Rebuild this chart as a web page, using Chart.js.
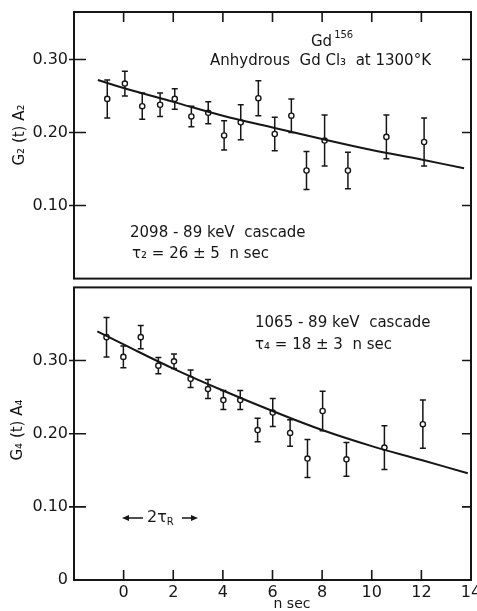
<!DOCTYPE html>
<html>
<head>
<meta charset="utf-8">
<script src="https://cdn.jsdelivr.net/npm/chart.js@4.4.1/dist/chart.umd.min.js"></script>
<style>
  html, body { margin: 0; padding: 0; background: #fff; }
  #page { position: relative; width: 477px; height: 611px; overflow: hidden; }
  #page canvas { position: absolute; left: 0; }
  #upper { top: 0; }
  #lower { top: 282px; }
</style>
</head>
<body>
<div id="page">
  <canvas id="upper" width="477" height="284"></canvas>
  <canvas id="lower" width="477" height="329"></canvas>
</div>
<script>
// x axis (n sec)
const xMin = -2;
const xMax = 14;
const xTickValues = [0, 2, 4, 6, 8, 10, 12, 14];
const xInnerTicks = [0, 2, 4, 6, 8, 10, 12];

// upper panel: G2(t) A2
const upperTime  = [-0.66, 0.05, 0.75, 1.47, 2.06, 2.73, 3.41, 4.05, 4.72, 5.43, 6.09, 6.76, 7.37, 8.10, 9.04, 10.59, 12.11];
const upperValue = [0.246, 0.267, 0.236, 0.238, 0.246, 0.222, 0.227, 0.196, 0.214, 0.247, 0.198, 0.223, 0.148, 0.189, 0.148, 0.194, 0.187];
const upperError = [0.026, 0.017, 0.018, 0.016, 0.014, 0.014, 0.015, 0.020, 0.024, 0.024, 0.023, 0.023, 0.026, 0.035, 0.025, 0.030, 0.033];
const upperFitTime  = [-1.04, 0, 2, 4, 6, 8, 10, 12, 13.72];
const upperFitValue = [0.272, 0.261, 0.242, 0.223, 0.207, 0.191, 0.176, 0.163, 0.151];
const upperYTicks = [0.10, 0.20, 0.30];

// lower panel: G4(t) A4
const lowerTime  = [-0.69, -0.01, 0.69, 1.40, 2.03, 2.70, 3.40, 4.02, 4.70, 5.40, 6.01, 6.71, 7.41, 8.02, 8.98, 10.51, 12.06];
const lowerValue = [0.332, 0.305, 0.332, 0.293, 0.299, 0.275, 0.261, 0.246, 0.246, 0.205, 0.229, 0.201, 0.166, 0.231, 0.165, 0.181, 0.213];
const lowerError = [0.027, 0.015, 0.016, 0.011, 0.010, 0.012, 0.013, 0.013, 0.013, 0.016, 0.019, 0.018, 0.026, 0.027, 0.023, 0.030, 0.033];
const lowerFitTime  = [-1.06, 0, 2, 4, 6, 8, 10, 12, 13.87];
const lowerFitValue = [0.340, 0.322, 0.289, 0.259, 0.231, 0.205, 0.183, 0.164, 0.146];
const lowerYTicks = [0, 0.10, 0.20, 0.30];

const ink = '#161616';
const family = '"DejaVu Sans", sans-serif';

function txt(ctx, s, x, y, size, align) {
    ctx.font = size + 'px ' + family;
    ctx.textAlign = align || 'left';
    ctx.textBaseline = 'middle';
    ctx.fillText(s, x, y);
    return ctx.measureText(s).width;
}

function arrowHead(ctx, x, y, dir) {
    ctx.beginPath();
    ctx.moveTo(x, y);
    ctx.lineTo(x - dir * 7, y - 3);
    ctx.lineTo(x - dir * 7, y + 3);
    ctx.closePath();
    ctx.fill();
}

// frame, inward ticks, error bars and the notes
function panelPlugin(panel) {
    return {
        id: 'panel_' + panel.name,
        beforeDatasetsDraw(chart) {
            const ctx = chart.ctx;
            const xs = chart.scales.x, ys = chart.scales.y;
            ctx.save();
            ctx.strokeStyle = ink;
            ctx.lineWidth = 1.5;
            panel.time.forEach((t, i) => {
                const px = xs.getPixelForValue(t);
                const top = ys.getPixelForValue(panel.value[i] + panel.error[i]);
                const bot = ys.getPixelForValue(panel.value[i] - panel.error[i]);
                ctx.beginPath();
                ctx.moveTo(px, top); ctx.lineTo(px, bot);
                ctx.moveTo(px - 3, top); ctx.lineTo(px + 3, top);
                ctx.moveTo(px - 3, bot); ctx.lineTo(px + 3, bot);
                ctx.stroke();
            });
            ctx.restore();
        },
        afterDraw(chart) {
            const ctx = chart.ctx;
            const a = chart.chartArea;
            const xs = chart.scales.x, ys = chart.scales.y;
            ctx.save();
            ctx.strokeStyle = ink;
            ctx.fillStyle = ink;
            ctx.lineWidth = 2;
            ctx.strokeRect(a.left, a.top, a.right - a.left, a.bottom - a.top);
            ctx.lineWidth = 1.6;
            ctx.beginPath();
            panel.yTicks.filter(v => v > 0).forEach(v => {
                const py = ys.getPixelForValue(v);
                ctx.moveTo(a.left - 5, py); ctx.lineTo(a.left + 12, py);
                ctx.moveTo(a.right, py); ctx.lineTo(a.right - 9, py);
            });
            panel.topTicks.forEach(v => {
                const px = xs.getPixelForValue(v);
                ctx.moveTo(px, a.top); ctx.lineTo(px, a.top + 10);
            });
            panel.bottomTicks.forEach(v => {
                const px = xs.getPixelForValue(v);
                ctx.moveTo(px, a.bottom); ctx.lineTo(px, a.bottom - 10);
            });
            ctx.stroke();

            // y axis title
            ctx.save();
            ctx.translate(panel.yTitlePos[0], panel.yTitlePos[1]);
            ctx.rotate(-Math.PI / 2);
            txt(ctx, panel.yTitle, 0, 0, 15, 'center');
            ctx.restore();

            panel.notes(ctx, chart);
            ctx.restore();
        }
    };
}

function buildChart(id, panel) {
    return new Chart(document.getElementById(id), {
        type: 'scatter',
        data: {
            datasets: [{
                data: panel.fitTime.map((t, i) => ({ x: t, y: panel.fitValue[i] })),
                showLine: true,
                borderColor: ink,
                borderWidth: 2,
                pointRadius: 0,
                tension: 0.4
            }, {
                data: panel.time.map((t, i) => ({ x: t, y: panel.value[i] })),
                pointStyle: 'circle',
                pointRadius: 2.6,
                pointBorderWidth: 1.4,
                pointBackgroundColor: '#fff',
                pointBorderColor: ink
            }]
        },
        options: {
            responsive: false,
            animation: false,
            devicePixelRatio: 1,
            layout: { padding: panel.padding },
            plugins: { legend: { display: false }, tooltip: { enabled: false } },
            scales: {
                x: {
                    type: 'linear',
                    min: xMin,
                    max: xMax,
                    display: panel.showX,
                    grid: { display: false, drawTicks: false },
                    border: { display: false },
                    afterBuildTicks: s => { s.ticks = xTickValues.map(v => ({ value: v })); },
                    ticks: {
                        color: ink,
                        padding: 3,
                        maxRotation: 0,
                        autoSkip: false,
                        font: { family: family, size: 16 },
                        callback: v => String(v)
                    },
                    afterFit: s => {
                        if (panel.showX) s.height = 31;
                        s.paddingLeft = 0; s.paddingRight = 0;
                    }
                },
                y: {
                    type: 'linear',
                    min: 0,
                    max: panel.yMax,
                    grid: { display: false, drawTicks: false },
                    border: { display: false },
                    afterBuildTicks: s => { s.ticks = panel.yTicks.map(v => ({ value: v })); },
                    ticks: {
                        color: ink,
                        padding: 6,
                        font: { family: family, size: 16 },
                        callback: v => v === 0 ? '0' : v.toFixed(2)
                    },
                    afterFit: s => { s.width = 74; s.paddingTop = 0; s.paddingBottom = 0; }
                }
            }
        },
        plugins: [panelPlugin(panel)]
    });
}

buildChart('upper', {
    name: 'upper',
    time: upperTime, value: upperValue, error: upperError,
    fitTime: upperFitTime, fitValue: upperFitValue,
    yMax: 0.365, yTicks: upperYTicks,
    showX: false,
    padding: { top: 12, right: 6, bottom: 1, left: 0 },
    topTicks: xInnerTicks, bottomTicks: [],
    yTitle: 'G\u2082 (t) A\u2082', yTitlePos: [20, 135],
    notes: ctx => {
        const w = txt(ctx, 'Gd', 311, 42, 15);
        txt(ctx, '156', 311 + w + 2, 35, 10);
        txt(ctx, 'Anhydrous  Gd Cl\u2083  at 1300\u00b0K', 210, 61, 15);
        txt(ctx, '2098 - 89 keV  cascade', 130, 233, 15);
        txt(ctx, '\u03c4\u2082 = 26 \u00b1 5  n sec', 132, 254, 15);
    }
});

buildChart('lower', {
    name: 'lower',
    time: lowerTime, value: lowerValue, error: lowerError,
    fitTime: lowerFitTime, fitValue: lowerFitValue,
    yMax: 0.40, yTicks: lowerYTicks,
    showX: true,
    padding: { top: 1, right: 6, bottom: 0, left: 0 },
    topTicks: [], bottomTicks: xInnerTicks,
    yTitle: 'G\u2084 (t) A\u2084', yTitlePos: [18, 148],
    notes: ctx => {
        txt(ctx, '1065 - 89 keV  cascade', 255, 41, 15);
        txt(ctx, '\u03c4\u2084 = 18 \u00b1 3  n sec', 255, 63, 15);
        // 2 tau_R marker
        ctx.lineWidth = 1.5;
        ctx.beginPath();
        ctx.moveTo(126, 236); ctx.lineTo(143, 236);
        ctx.moveTo(182, 236); ctx.lineTo(193, 236);
        ctx.stroke();
        arrowHead(ctx, 122, 236, -1);
        arrowHead(ctx, 198, 236, 1);
        const w = txt(ctx, '2\u03c4', 147, 236, 16);
        txt(ctx, 'R', 147 + w, 240, 10);
        txt(ctx, 'n sec', 292, 322, 14, 'center');
    }
});
</script>
</body>
</html>
